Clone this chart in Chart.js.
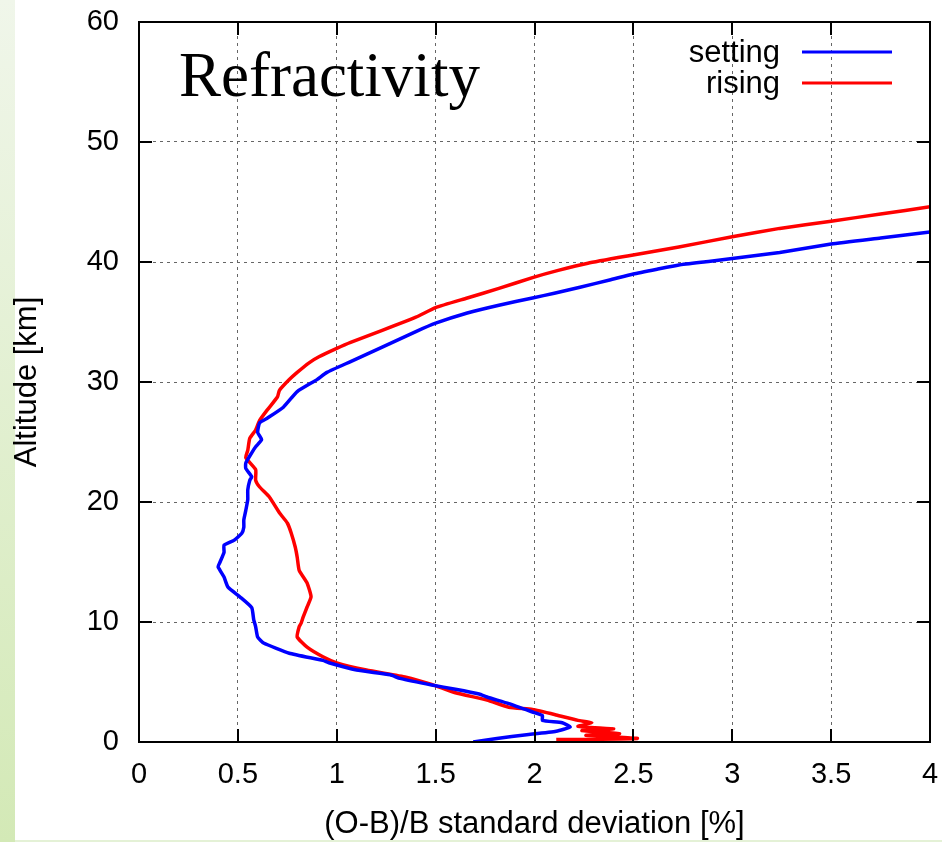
<!DOCTYPE html>
<html>
<head>
<meta charset="utf-8">
<script src="https://cdn.jsdelivr.net/npm/chart.js@4.4.1/dist/chart.umd.min.js"></script>
<style>
  html, body { margin: 0; padding: 0; }
  body {
    width: 942px; height: 842px; overflow: hidden;
    background:
      linear-gradient(to bottom, #f0f6ea, #d3e9b6) left top / 15px 100% no-repeat,
      linear-gradient(to right, #e4f1d6, #e4f1d6) left bottom / 100% 2px no-repeat,
      #ffffff;
  }
  #wrap { position: relative; width: 942px; height: 842px; }
</style>
</head>
<body>
<div id="wrap"><canvas id="chart"></canvas></div>
<script>
// profili: altitudine [km] e deviazione standard [%]
const settingAlt = [0, 0.3, 0.6, 0.9, 1.25, 1.6, 1.8, 2.2, 2.5, 3.2, 3.75, 4.0, 4.4, 4.75, 5.3, 5.6, 6.0, 6.6, 6.8, 7.4, 8.25, 8.75, 9.6, 10.2, 11.2, 12.1, 12.9, 13.75, 14.6, 15.0, 15.8, 16.4, 16.8, 17.4, 17.9, 18.5, 19.3, 20.2, 21.0, 21.8, 22.1, 22.8, 23.25, 24.1, 24.6, 25.2, 25.8, 26.6, 27.0, 27.9, 29.2, 30.2, 30.8, 31.7, 32.9, 34.2, 34.9, 35.75, 36.4, 37.0, 37.4, 37.9, 38.5, 39.0, 39.4, 39.75, 40.05, 40.3, 40.8, 41.5, 42.0, 42.5];
const settingDev = [1.69, 1.81, 1.96, 2.11, 2.18, 2.14, 2.04, 2.04, 1.99, 1.87, 1.76, 1.72, 1.60, 1.48, 1.32, 1.27, 1.10, 0.96, 0.93, 0.76, 0.63, 0.60, 0.59, 0.58, 0.57, 0.51, 0.45, 0.43, 0.40, 0.41, 0.43, 0.43, 0.48, 0.52, 0.53, 0.53, 0.54, 0.55, 0.55, 0.56, 0.57, 0.54, 0.54, 0.57, 0.59, 0.62, 0.60, 0.61, 0.65, 0.73, 0.80, 0.90, 0.95, 1.07, 1.23, 1.40, 1.50, 1.66, 1.82, 1.99, 2.10, 2.23, 2.38, 2.50, 2.62, 2.73, 2.88, 3.0, 3.24, 3.5, 3.75, 4.0];

const risingAlt = [0.2, 0.3, 0.55, 0.7, 0.95, 1.1, 1.3, 1.6, 1.8, 2.25, 2.7, 2.9, 3.5, 4.1, 4.8, 5.4, 6.0, 6.6, 7.1, 7.9, 8.75, 9.6, 9.9, 10.4, 11.25, 12.1, 13.25, 14.3, 15.4, 16.25, 17.4, 18.25, 19.1, 20.4, 21.25, 21.8, 22.7, 23.7, 24.3, 25.3, 26.0, 26.8, 27.7, 28.75, 29.3, 30.2, 30.8, 31.6, 32.1, 32.8, 33.3, 34.3, 35.4, 36.2, 37.0, 37.8, 38.7, 39.3, 39.9, 40.5, 41.25, 42.1, 42.8, 43.4, 44.0, 44.6];
const risingDev = [2.11, 2.52, 2.26, 2.43, 2.24, 2.40, 2.22, 2.29, 2.22, 2.11, 1.99, 1.87, 1.76, 1.60, 1.48, 1.35, 1.15, 1.0, 0.93, 0.85, 0.80, 0.81, 0.82, 0.83, 0.85, 0.87, 0.85, 0.81, 0.80, 0.79, 0.77, 0.75, 0.71, 0.66, 0.61, 0.59, 0.59, 0.54, 0.55, 0.56, 0.59, 0.61, 0.65, 0.70, 0.71, 0.76, 0.80, 0.86, 0.91, 1.0, 1.07, 1.23, 1.40, 1.50, 1.66, 1.82, 1.99, 2.12, 2.27, 2.47, 2.73, 3.0, 3.24, 3.5, 3.75, 4.0];

const seriesNames = ['setting', 'rising'];
const seriesColors = ['#0000ff', '#ff0000'];
const xTicks = [0, 0.5, 1, 1.5, 2, 2.5, 3, 3.5, 4];
const yTicks = [0, 10, 20, 30, 40, 50, 60];

function punti(dev, alt) {
    return dev.map((v, i) => ({ x: v, y: alt[i] }));
}

const sans = 'Liberation Sans, Arial, sans-serif';

// cornice, tacche interne, titolo e legenda
const decorazioni = {
    id: 'decorazioni',
    afterDraw(chart) {
        const ctx = chart.ctx;
        const a = chart.chartArea;
        const sx = chart.scales.x, sy = chart.scales.y;
        ctx.save();
        ctx.strokeStyle = '#000';
        ctx.lineWidth = 2;
        ctx.beginPath();
        xTicks.forEach(t => {
            const px = Math.round(sx.getPixelForValue(t));
            ctx.moveTo(px, a.bottom); ctx.lineTo(px, a.bottom - 13);
            ctx.moveTo(px, a.top); ctx.lineTo(px, a.top + 13);
        });
        yTicks.forEach(t => {
            const py = Math.round(sy.getPixelForValue(t));
            ctx.moveTo(a.left, py); ctx.lineTo(a.left + 13, py);
            ctx.moveTo(a.right, py); ctx.lineTo(a.right - 13, py);
        });
        ctx.stroke();
        ctx.strokeRect(a.left, a.top, a.right - a.left, a.bottom - a.top);

        ctx.fillStyle = '#000';
        ctx.font = '63px "Liberation Serif", "Times New Roman", serif';
        ctx.textAlign = 'left';
        ctx.textBaseline = 'alphabetic';
        ctx.fillText('Refractivity', 179, 96);

        ctx.font = '31px ' + sans;
        ctx.textAlign = 'right';
        ctx.textBaseline = 'middle';
        ctx.lineWidth = 3;
        seriesNames.forEach((n, i) => {
            const y = 52 + i * 31;
            ctx.fillText(n, 780, y + 1);
            ctx.strokeStyle = seriesColors[i];
            ctx.beginPath();
            ctx.moveTo(802, y); ctx.lineTo(892, y);
            ctx.stroke();
        });
        ctx.restore();
    }
};

const ctx = document.getElementById('chart').getContext('2d');
const grafico = new Chart(ctx, {
    type: 'scatter',
    data: {
        datasets: [{
            label: seriesNames[0],
            data: punti(settingDev, settingAlt),
            borderColor: seriesColors[0],
            backgroundColor: seriesColors[0],
            borderWidth: 3.5,
            tension: 0.15,
            showLine: true,
            pointRadius: 0
        }, {
            label: seriesNames[1],
            data: punti(risingDev, risingAlt),
            borderColor: seriesColors[1],
            backgroundColor: seriesColors[1],
            borderWidth: 3.5,
            tension: 0.15,
            showLine: true,
            pointRadius: 0
        }]
    },
    options: {
        responsive: true,
        maintainAspectRatio: false,
        animation: false,
        devicePixelRatio: 1,
        layout: { padding: { top: 22, right: 12, left: 0, bottom: 0 } },
        plugins: { legend: { display: false }, tooltip: { enabled: false } },
        scales: {
            x: {
                type: 'linear', min: 0, max: 4,
                afterFit: s => { s.height = 100; s.paddingLeft = 0; s.paddingRight = 0; },
                afterBuildTicks: s => { s.ticks = xTicks.map(v => ({ value: v })); },
                ticks: { color: '#000', padding: 16, font: { family: sans, size: 29 },
                         callback: v => String(v) },
                grid: { color: '#666', lineWidth: 1, drawTicks: false },
                border: { display: false, dash: [3, 4] },
                title: { display: true, text: '(O-B)/B standard deviation [%]', color: '#000',
                         font: { family: sans, size: 31, lineHeight: 1 }, padding: { top: 0, bottom: 2 } }
            },
            y: {
                type: 'linear', min: 0, max: 60,
                afterFit: s => { s.width = 139; s.paddingTop = 0; s.paddingBottom = 0; },
                afterBuildTicks: s => { s.ticks = yTicks.map(v => ({ value: v })); },
                ticks: { color: '#000', padding: 20, font: { family: sans, size: 29 },
                         callback: v => String(v) },
                grid: { color: '#666', lineWidth: 1, drawTicks: false },
                border: { display: false, dash: [3, 4] },
                title: { display: true, text: 'Altitude [km]', color: '#000',
                         font: { family: sans, size: 31, lineHeight: 1 }, padding: { top: 12, bottom: 0 } }
            }
        }
    },
    plugins: [decorazioni]
});
</script>
</body>
</html>
